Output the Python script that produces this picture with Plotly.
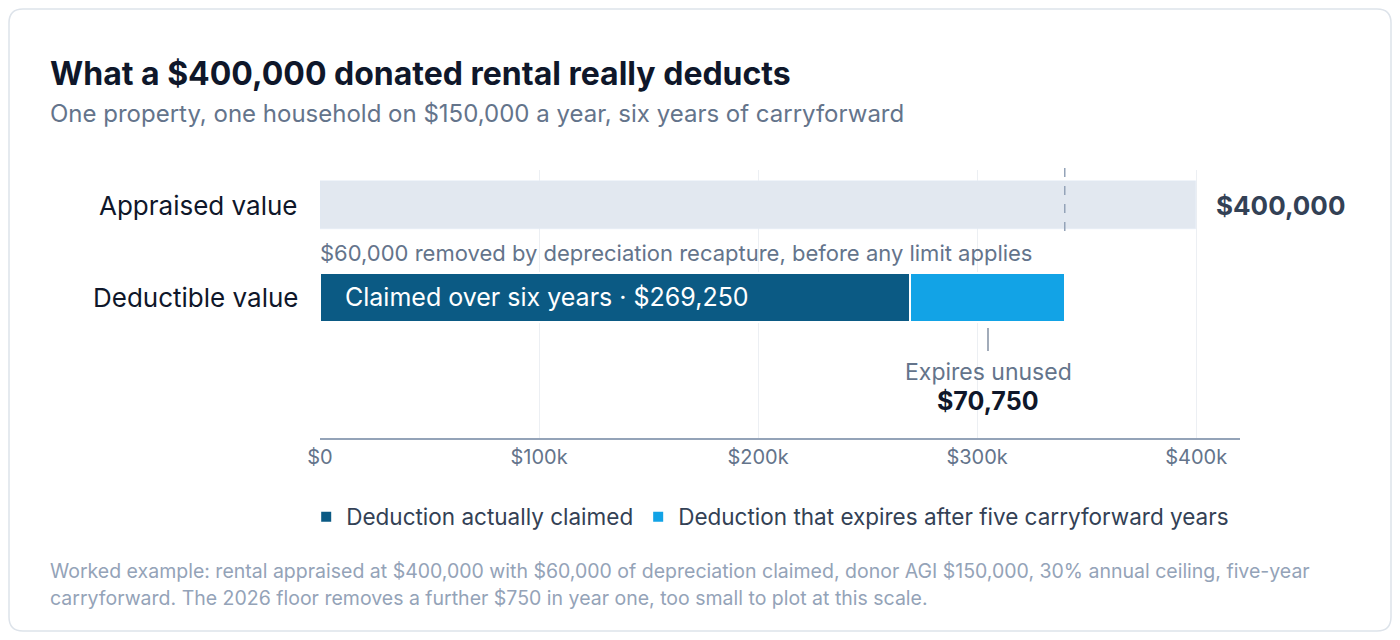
import plotly.graph_objects as go

categories = ["Deductible value", "Appraised value"]
appraised = 400000
claimed = 269250
expires = 70750
recapture = 60000
tick_vals = [0, 100000, 200000, 300000, 400000]
tick_text = ["$0", "$100k", "$200k", "$300k", "$400k"]

# page body adds an 8px margin, so the figure is drawn 8px smaller and offset
OFF = 8
W, H = 1384, 624
L, R, T, B = 312, 152, 162, 194
PW, PH = W - L - R, H - T - B


def px(x):
    return (x - OFF - L) / PW


def py(y):
    return (H - B - (y - OFF)) / PH


fig = go.Figure()
fig.add_trace(go.Bar(
    y=[1], x=[appraised], orientation="h", width=0.53,
    marker=dict(color="#e2e8f0"), showlegend=False, hoverinfo="skip"))
fig.add_trace(go.Bar(
    y=[0], x=[claimed], orientation="h", width=0.53, name="Deduction actually claimed",
    marker=dict(color="#0b5a84", line=dict(color="white", width=2))))
fig.add_trace(go.Bar(
    y=[0], x=[expires], base=[claimed], orientation="h", width=0.53,
    name="Deduction that expires after five carryforward years",
    marker=dict(color="#12a3e6", line=dict(color="white", width=2))))

dark = "#0f172a"
gray = "#64748b"
ann = [
    dict(x=px(48), y=py(73), text="<b>What a $400,000 donated rental really deducts</b>",
         font=dict(size=32, color=dark), xanchor="left"),
    dict(x=px(48), y=py(113), text="One property, one household on $150,000 a year, six years of carryforward",
         font=dict(size=24, color=gray), xanchor="left"),
    dict(x=px(48), y=py(571), text="Worked example: rental appraised at $400,000 with $60,000 of depreciation claimed, donor AGI $150,000, 30% annual ceiling, five-year",
         font=dict(size=19.5, color="#94a3b8"), xanchor="left"),
    dict(x=px(48), y=py(598), text="carryforward. The 2026 floor removes a further $750 in year one, too small to plot at this scale.",
         font=dict(size=19.5, color="#94a3b8"), xanchor="left"),
    dict(x=px(300), y=py(205), text="Appraised value", font=dict(size=26, color=dark), xanchor="right"),
    dict(x=px(300), y=py(297), text="Deductible value", font=dict(size=26, color=dark), xanchor="right"),
    dict(x=px(1214), y=py(205), text="<b>$" + f"{appraised:,}" + "</b>", font=dict(size=26, color="#334155"), xanchor="left"),
    dict(x=px(318), y=py(253), text="$" + f"{recapture:,}" + " removed by depreciation recapture, before any limit applies",
         font=dict(size=22, color=gray), xanchor="left"),
    dict(x=px(343), y=py(297), text="Claimed over six years · $" + f"{claimed:,}",
         font=dict(size=25, color="white"), xanchor="left"),
    dict(x=px(988), y=py(372), text="Expires unused", font=dict(size=23, color=gray), xanchor="center"),
    dict(x=px(988), y=py(401), text="<b>$" + f"{expires:,}" + "</b>", font=dict(size=25, color=dark), xanchor="center"),
]
for a in ann:
    a.update(xref="paper", yref="paper", showarrow=False, yanchor="middle")

x0, y0, x1, y1, r = px(9), py(9), px(1391), py(631), 14
rx, ry = r / PW, r / PH
card = (f"M {x0+rx},{y0} L {x1-rx},{y0} Q {x1},{y0} {x1},{y0-ry} L {x1},{y1+ry} Q {x1},{y1} {x1-rx},{y1} "
        f"L {x0+rx},{y1} Q {x0},{y1} {x0},{y1+ry} L {x0},{y0-ry} Q {x0},{y0} {x0+rx},{y0} Z")
shapes = [
    dict(type="path", path=card, xref="paper", yref="paper", line=dict(color="#dde3ea", width=1.5), layer="below"),
    dict(type="line", xref="x", yref="paper", x0=claimed + expires, x1=claimed + expires,
         y0=py(168), y1=py(236), line=dict(color="#94a3b8", width=1.5, dash="dash")),
    dict(type="line", xref="paper", yref="paper", x0=px(988), x1=px(988), y0=py(328), y1=py(351),
         line=dict(color=gray, width=1.2)),
]

fig.update_layout(
    width=W, height=H, margin=dict(l=L, r=R, t=T, b=B),
    paper_bgcolor="white", plot_bgcolor="white", barmode="overlay",
    font=dict(family="Inter, Helvetica, Arial, sans-serif"),
    annotations=ann, shapes=shapes, bargap=0,
    legend=dict(orientation="h", x=-0.015, y=py(517), yanchor="middle", xanchor="left",
                font=dict(size=22.5, color="#334155"), itemwidth=30, tracegroupgap=0),
    xaxis=dict(range=[0, 420000], tickvals=tick_vals, ticktext=tick_text, showgrid=True,
               gridcolor="#eceff3", zeroline=False, showline=True, linecolor="#94a3b8", linewidth=1.5,
               tickfont=dict(size=20, color=gray), ticks="", ticklen=0),
    yaxis=dict(range=[-1.53, 1.38], showticklabels=False, showgrid=False, zeroline=False),
)
fig.write_html("out.html")
